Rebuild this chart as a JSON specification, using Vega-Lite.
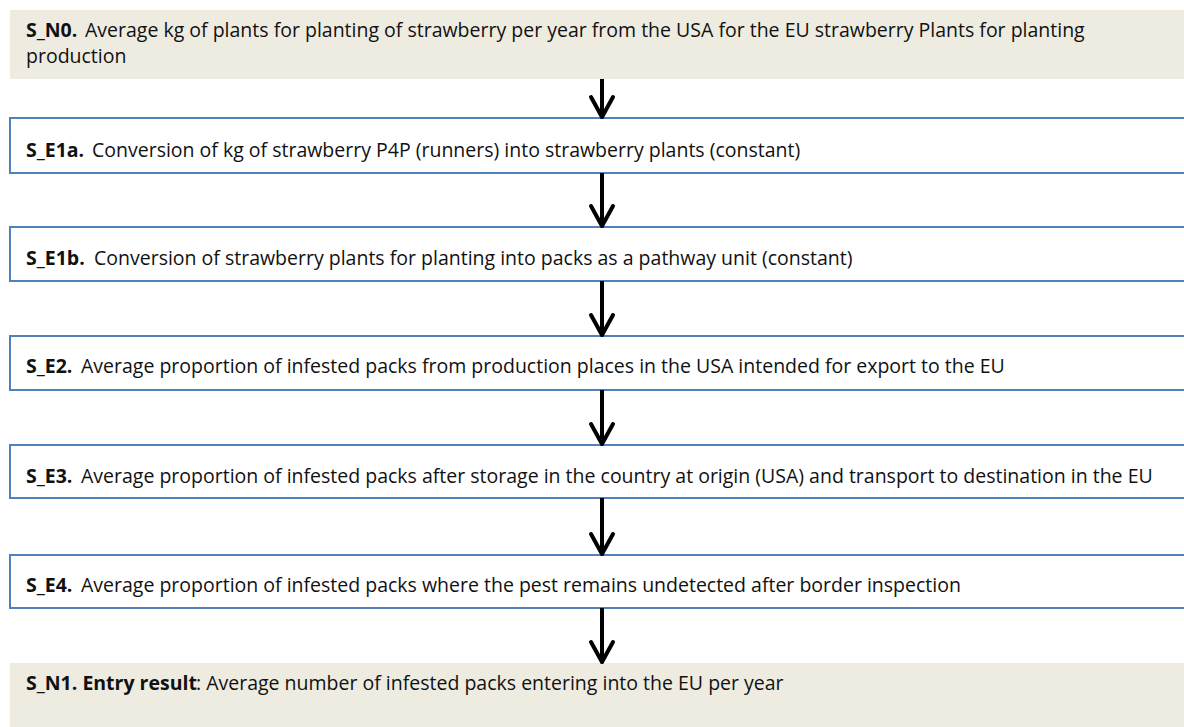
{
  "$schema": "https://vega.github.io/schema/vega-lite/v6.json",
  "autosize": {"type": "fit", "contains": "padding"},
  "width": 1184,
  "height": 727,
  "padding": 0,
  "background": "white",
  "config": {"view": {"stroke": null}},
  "datasets": {
    "boxes": [
      {"id": "S_N0", "x0": 10, "x1": 1200, "y0": 10, "y1": 79, "kind": "node"},
      {"id": "S_E1a", "x0": 10, "x1": 1200, "y0": 118, "y1": 173, "kind": "step"},
      {"id": "S_E1b", "x0": 10, "x1": 1200, "y0": 227, "y1": 281, "kind": "step"},
      {"id": "S_E2", "x0": 10, "x1": 1200, "y0": 336, "y1": 390, "kind": "step"},
      {"id": "S_E3", "x0": 10, "x1": 1200, "y0": 445, "y1": 498, "kind": "step"},
      {"id": "S_E4", "x0": 10, "x1": 1200, "y0": 555, "y1": 608, "kind": "step"},
      {"id": "S_N1", "x0": 10, "x1": 1200, "y0": 663, "y1": 740, "kind": "node"}
    ],
    "bold": [
      {"t": "S_N0.", "x": 26, "y": 37},
      {"t": "S_E1a.", "x": 26, "y": 157},
      {"t": "S_E1b.", "x": 26, "y": 265},
      {"t": "S_E2.", "x": 26, "y": 373},
      {"t": "S_E3.", "x": 26, "y": 483},
      {"t": "S_E4.", "x": 26, "y": 592},
      {"t": "S_N1. Entry result", "x": 26, "y": 690}
    ],
    "plain": [
      {"t": "Average kg of plants for planting of strawberry per year from the USA for the EU strawberry Plants for planting", "x": 85, "y": 37},
      {"t": "production", "x": 26, "y": 63},
      {"t": "Conversion of kg of strawberry P4P (runners) into strawberry plants  (constant)", "x": 92, "y": 157},
      {"t": "Conversion of strawberry plants for planting into packs as a pathway unit (constant)", "x": 94, "y": 265},
      {"t": "Average proportion of infested packs from production places in the USA intended for export to the EU", "x": 81, "y": 373},
      {"t": "Average proportion of infested packs after storage in the country at origin (USA) and transport to destination in the EU", "x": 81, "y": 483},
      {"t": "Average proportion of infested packs where the pest remains undetected after border inspection", "x": 81, "y": 592},
      {"t": ": Average number of infested packs entering into the EU per year", "x": 196, "y": 690}
    ],
    "arrows": [
      {"from": "S_N0", "ax": 602, "ya": 79, "yb": 116},
      {"from": "S_E1a", "ax": 602, "ya": 173, "yb": 225},
      {"from": "S_E1b", "ax": 602, "ya": 281, "yb": 334},
      {"from": "S_E2", "ax": 602, "ya": 390, "yb": 443},
      {"from": "S_E3", "ax": 602, "ya": 498, "yb": 553},
      {"from": "S_E4", "ax": 602, "ya": 608, "yb": 661}
    ],
    "heads": [
      {"hx": 591, "hy": 97, "tx": 602, "ty": 117},
      {"hx": 613, "hy": 97, "tx": 602, "ty": 117},
      {"hx": 591, "hy": 206, "tx": 602, "ty": 226},
      {"hx": 613, "hy": 206, "tx": 602, "ty": 226},
      {"hx": 591, "hy": 315, "tx": 602, "ty": 335},
      {"hx": 613, "hy": 315, "tx": 602, "ty": 335},
      {"hx": 591, "hy": 424, "tx": 602, "ty": 444},
      {"hx": 613, "hy": 424, "tx": 602, "ty": 444},
      {"hx": 591, "hy": 534, "tx": 602, "ty": 554},
      {"hx": 613, "hy": 534, "tx": 602, "ty": 554},
      {"hx": 591, "hy": 642, "tx": 602, "ty": 662},
      {"hx": 613, "hy": 642, "tx": 602, "ty": 662}
    ]
  },
  "layer": [
    {
      "data": {"name": "boxes"},
      "mark": {"type": "rect", "clip": true},
      "encoding": {
        "x": {"field": "x0", "type": "quantitative", "scale": {"domain": [0, 1184], "nice": false, "zero": false}, "axis": null},
        "x2": {"field": "x1"},
        "y": {"field": "y0", "type": "quantitative", "scale": {"domain": [0, 727], "nice": false, "zero": false, "reverse": true}, "axis": null},
        "y2": {"field": "y1"},
        "fill": {"field": "kind", "type": "nominal", "scale": {"domain": ["node", "step"], "range": ["#EEECE1", "#FFFFFF"]}, "legend": null},
        "stroke": {"field": "kind", "type": "nominal", "scale": {"domain": ["node", "step"], "range": ["transparent", "#4F81BD"]}, "legend": null},
        "strokeWidth": {"value": 2}
      }
    },
    {
      "data": {"name": "arrows"},
      "mark": {"type": "rule", "color": "black", "strokeWidth": 4},
      "encoding": {
        "x": {"field": "ax", "type": "quantitative"},
        "y": {"field": "ya", "type": "quantitative"},
        "y2": {"field": "yb"}
      }
    },
    {
      "data": {"name": "heads"},
      "mark": {"type": "rule", "color": "black", "strokeWidth": 4, "strokeCap": "round"},
      "encoding": {
        "x": {"field": "hx", "type": "quantitative"},
        "x2": {"field": "tx"},
        "y": {"field": "hy", "type": "quantitative"},
        "y2": {"field": "ty"}
      }
    },
    {
      "data": {"name": "bold"},
      "mark": {"type": "text", "align": "left", "baseline": "alphabetic", "font": "Open Sans", "fontSize": 19.5, "fontWeight": "bold", "color": "#111111"},
      "encoding": {
        "x": {"field": "x", "type": "quantitative"},
        "y": {"field": "y", "type": "quantitative"},
        "text": {"field": "t"}
      }
    },
    {
      "data": {"name": "plain"},
      "mark": {"type": "text", "align": "left", "baseline": "alphabetic", "font": "Open Sans", "fontSize": 19.5, "color": "#111111"},
      "encoding": {
        "x": {"field": "x", "type": "quantitative"},
        "y": {"field": "y", "type": "quantitative"},
        "text": {"field": "t"}
      }
    }
  ]
}
